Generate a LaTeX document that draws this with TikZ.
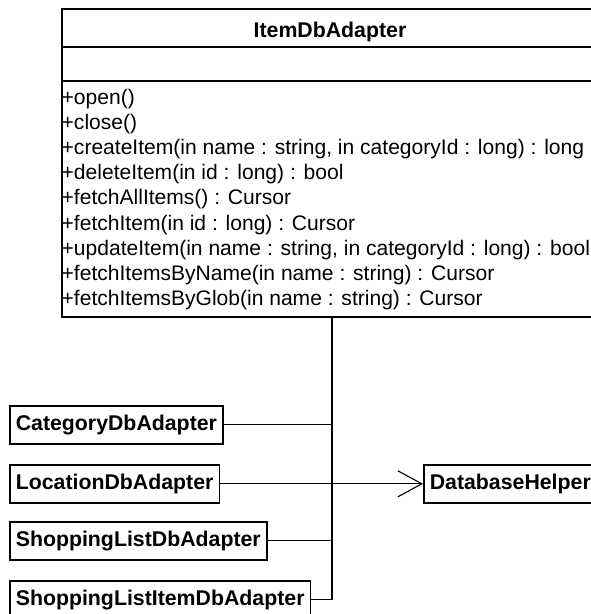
\documentclass[tikz,border=0pt]{standalone}
\usepackage{fontspec}
\setmainfont{Liberation Sans}
\usetikzlibrary{arrows.meta}
\begin{document}
\begin{tikzpicture}[x=1pt,y=-1pt,
  boxline/.style={line width=1.6pt},
  classbox/.style={draw, boxline, anchor=north west, minimum height=38pt,
    inner xsep=6pt, inner ysep=0pt,
    font=\fontsize{21.3}{25.1}\selectfont\bfseries},
  method/.style={anchor=base west, inner sep=0pt,
    font=\fontsize{21.05}{25.1}\selectfont},
  link/.style={line width=1.1pt}]
\useasboundingbox (0,0) rectangle (591,614);
\clip (0,0) rectangle (591,614);

% ItemDbAdapter class: outer frame, compartments, name and operations
\node[draw, boxline, anchor=north west, minimum width=538pt,
      minimum height=308pt, inner sep=0pt] (item) at (61,8) {};
\draw[boxline] (61,46.7) -- (599,46.7);
\draw[boxline] (61,80.7) -- (599,80.7);
\node[anchor=base, inner sep=0pt,
      font=\fontsize{21.3}{25.1}\selectfont\bfseries] (title) at (330,37) {ItemDbAdapter};
\foreach \t [count=\i] in {
  {+open()},
  {+close()},
  {+createItem(in name : string, in categoryId : long) : long},
  {+deleteItem(in id : long) : bool},
  {+fetchAllItems() : Cursor},
  {+fetchItem(in id : long) : Cursor},
  {+updateItem(in name : string, in categoryId : long) : bool},
  {+fetchItemsByName(in name : string) : Cursor},
  {+fetchItemsByGlob(in name : string) : Cursor}}
  \node[method] (m\i) at (61.5,{104.5+25.1*(\i-1)}) {\t};

% the other adapters and the helper
\node[classbox] (cat)  at (9,405)   {CategoryDbAdapter};
\node[classbox] (loc)  at (9,464)   {LocationDbAdapter};
\node[classbox] (shop) at (9,521)   {ShoppingListDbAdapter};
\node[classbox] (sli)  at (9,580)   {ShoppingListItemDbAdapter};
\node[classbox] (db)   at (423,464) {DatabaseHelper};

% shared trunk joining every adapter to the dependency on DatabaseHelper
\coordinate (jt) at ([xshift=271pt]item.south west);
\draw[link] (jt) -- (jt |- sli.east) -- (sli.east);
\draw[link] (cat.east) -- (cat.east -| jt);
\draw[link] (shop.east) -- (shop.east -| jt);
\draw[link, -{Straight Barb[length=24pt, width=26pt]}] (loc.east) -- (db.west);
\end{tikzpicture}
\end{document}
